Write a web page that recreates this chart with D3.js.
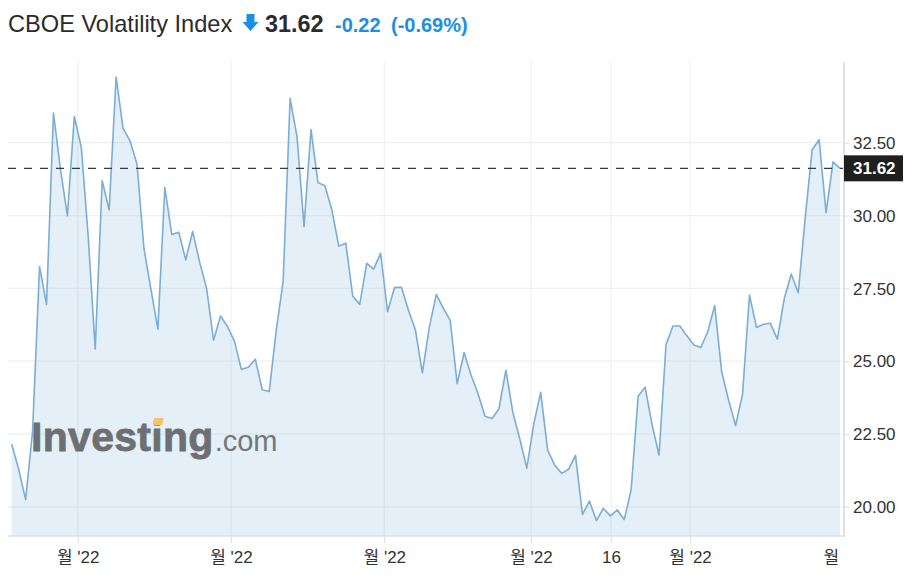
<!DOCTYPE html>
<html>
<head>
<meta charset="utf-8">
<script src="https://cdn.jsdelivr.net/npm/d3@7"></script>
<style>
  html, body { margin: 0; padding: 0; background: #fff; }
  svg { display: block; font-family: "Liberation Sans", Arial, "Noto Sans CJK KR", sans-serif; }
</style>
</head>
<body>
<svg id="chart" width="912" height="578"></svg>
<script>
// ---- data (daily closes, one per weekday) ----
const values = [
  22.15, 21.30, 20.25, 22.60, 28.25, 26.95, 33.52, 31.60, 29.99, 33.40,
  32.34, 29.25, 25.42, 31.20, 30.19, 34.75, 32.99, 32.56, 31.77, 28.87,
  27.47, 26.10, 30.96, 29.35, 29.43, 28.48, 29.45, 28.40, 27.50, 25.72,
  26.55, 26.19, 25.69, 24.72, 24.79, 25.07, 24.02, 23.96, 26.05, 27.75,
  34.02, 32.69, 29.62, 32.95, 31.13, 31.02, 30.19, 28.95, 29.05, 27.23,
  26.95, 28.36, 28.16, 28.71, 26.70, 27.53, 27.54, 26.75, 26.08, 24.60,
  26.17, 27.29, 26.82, 26.40, 24.23, 25.30, 24.52, 23.88, 23.11, 23.03,
  23.36, 24.69, 23.24, 22.33, 21.33, 22.84, 23.93, 21.95, 21.44, 21.15,
  21.29, 21.77, 19.74, 20.20, 19.53, 19.95, 19.69, 19.90, 19.56, 20.60,
  23.80, 24.11, 22.82, 21.78, 25.56, 26.21, 26.21, 25.87, 25.56, 25.47,
  26.01, 26.91, 24.64, 23.66, 22.79, 23.87, 27.27, 26.16, 26.27, 26.30,
  25.76, 27.16, 27.99, 27.35, 29.92, 32.26, 32.60, 30.10, 31.84, 31.62
];
const xTickPos = [9.48, 31.5, 53.53, 74.6, 86.1, 97.46, 119.6];
const xTickLabels = ["월 '22", "월 '22", "월 '22", "월 '22", "16", "월 '22", "월 '22"];
const yTicks = [20, 22.5, 25, 27.5, 30, 32.5];
const titleText = "CBOE Volatility Index";
const lastPrice = 31.62;
const change = "-0.22";
const changePct = "(-0.69%)";

// ---- layout ----
const svg = d3.select("#chart");
const plotLeft = 8, plotRight = 844, plotTop = 62, plotBottom = 536;
const x = d3.scaleLinear().domain([0, values.length - 1]).range([11.7, 840]);
const y = d3.scaleLinear().domain([19, 35.27]).range([plotBottom, plotTop]);

const lineColor = "#7aaed6";
const blue = "#1c8fe0";

// clip
const defs = svg.append("defs");
defs.append("clipPath").attr("id", "clipX")
  .append("rect").attr("x", 0).attr("y", 0).attr("width", plotRight).attr("height", 578);

// gridlines
const grid = svg.append("g");
grid.selectAll("line.h").data(yTicks).enter().append("line")
  .attr("x1", plotLeft).attr("x2", plotRight)
  .attr("y1", d => y(d)).attr("y2", d => y(d))
  .attr("stroke", "#f0f0f0").attr("stroke-width", 1.2);
grid.selectAll("line.v").data(xTickPos.slice(0, -1)).enter().append("line")
  .attr("x1", d => x(d)).attr("x2", d => x(d))
  .attr("y1", plotTop).attr("y2", plotBottom)
  .attr("stroke", "#f0f0f0").attr("stroke-width", 1.2);

// area + line
const area = d3.area().x((d, i) => x(i)).y0(plotBottom).y1(d => y(d));
svg.append("path").datum(values).attr("d", area)
  .attr("fill", lineColor).attr("fill-opacity", 0.2);

// watermark
const wm = svg.append("g");
const wmText = wm.append("text")
  .attr("x", 31).attr("y", 451)
  .attr("font-size", 41).attr("font-weight", "bold")
  .attr("fill", "#6d6f72").attr("stroke", "#6d6f72").attr("stroke-width", 0.8)
  .attr("letter-spacing", 0.3)
  .text("Investing");
const wmW = wmText.node().getComputedTextLength();
wm.append("text")
  .attr("x", 31 + wmW + 1).attr("y", 451)
  .attr("font-size", 29).attr("fill", "#747679")
  .text(".com");
try {
  const ext = wmText.node().getExtentOfChar(6);
  wm.append("path")
    .attr("d", `M${ext.x + 2},${451 - 26} L${ext.x + ext.width - 0.5},${451 - 26} L${ext.x + ext.width + 0.5},${451 - 33} L${ext.x + 3},${451 - 33} Z`)
    .attr("fill", "#f2c46e");
} catch (e) {}

const line = d3.line().x((d, i) => x(i)).y(d => y(d));
svg.append("path").datum(values).attr("d", line)
  .attr("fill", "none").attr("stroke", lineColor).attr("stroke-width", 1.6)
  .attr("stroke-linejoin", "round");

// dashed last-price line
svg.append("line")
  .attr("x1", plotLeft).attr("x2", plotRight)
  .attr("y1", y(lastPrice)).attr("y2", y(lastPrice))
  .attr("stroke", "#3a3a3a").attr("stroke-width", 1.3)
  .attr("stroke-dasharray", "8,8");

// bottom axis
const xAxis = d3.axisBottom(x).tickValues(xTickPos)
  .tickFormat((d, i) => xTickLabels[i]).tickSize(7).tickSizeOuter(0);
const gx = svg.append("g").attr("transform", `translate(0,${plotBottom})`)
  .attr("clip-path", "url(#clipX)").call(xAxis);
gx.select(".domain").remove();
gx.selectAll(".tick line").attr("stroke", "#dde1e8").attr("stroke-width", 1.2);
gx.selectAll(".tick text").attr("fill", "#333").attr("font-size", 17)
  .attr("font-family", "\"Liberation Sans\", Arial, \"Noto Sans CJK KR\", sans-serif")
  .attr("dy", "1em");
svg.append("line").attr("x1", plotLeft).attr("x2", plotRight)
  .attr("y1", plotBottom).attr("y2", plotBottom)
  .attr("stroke", "#dde1e8").attr("stroke-width", 1.5);

// right axis
const yAxis = d3.axisRight(y).tickValues(yTicks).tickFormat(d3.format(".2f"))
  .tickSize(5).tickSizeOuter(0);
const gy = svg.append("g").attr("transform", `translate(${plotRight},0)`).call(yAxis);
gy.select(".domain").remove();
gy.selectAll(".tick line").attr("stroke", "#dde1e8").attr("stroke-width", 1.2);
gy.selectAll(".tick text").attr("fill", "#333").attr("font-size", 17)
  .attr("font-family", "\"Liberation Sans\", Arial, sans-serif")
  .attr("x", 9).attr("dy", "0.34em");
svg.append("line").attr("x1", plotRight).attr("x2", plotRight)
  .attr("y1", plotTop).attr("y2", plotBottom + 1)
  .attr("stroke", "#dde1e8").attr("stroke-width", 2);

// last price box
const boxY = y(lastPrice);
svg.append("rect").attr("x", plotRight).attr("y", boxY - 13)
  .attr("width", 59).attr("height", 26).attr("fill", "#1f1f1f");
svg.append("text").attr("x", plotRight + 9).attr("y", boxY + 6)
  .attr("font-size", 17).attr("font-weight", "bold").attr("fill", "#fff")
  .text(d3.format(".2f")(lastPrice));

// header
svg.append("text").attr("x", 8).attr("y", 32)
  .attr("font-size", 23.6).attr("fill", "#2b2b2b").text(titleText);
svg.append("path")
  .attr("d", "M246.5,14 L254.5,14 L254.5,22 L258.5,22 L250.5,31 L242.5,22 L246.5,22 Z")
  .attr("fill", blue);
svg.append("text").attr("x", 265).attr("y", 32)
  .attr("font-size", 23.4).attr("font-weight", "bold").attr("fill", "#2b2b2b")
  .text(d3.format(".2f")(lastPrice));
svg.append("text").attr("x", 335).attr("y", 31.5)
  .attr("font-size", 20).attr("font-weight", "bold").attr("fill", blue)
  .text(change);
svg.append("text").attr("x", 391).attr("y", 31.5)
  .attr("font-size", 20).attr("font-weight", "bold").attr("fill", blue)
  .text(changePct);
</script>
</body>
</html>
